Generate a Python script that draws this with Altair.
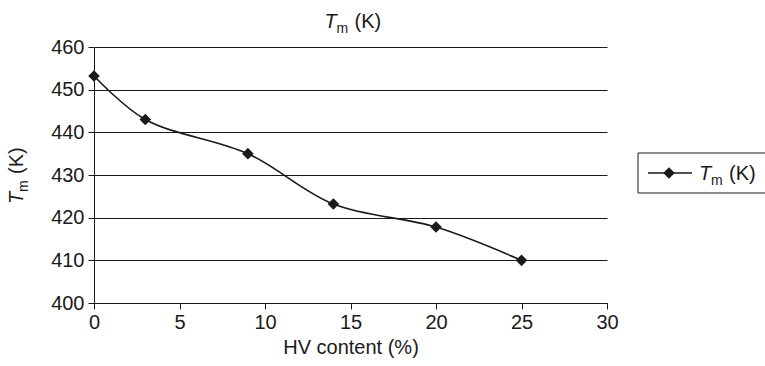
import altair as alt
import pandas as pd

# data
hv_content = [0, 3, 9, 14, 20, 25]
tm_values = [453.2, 443.0, 435.0, 423.2, 417.8, 410.0]
x_ticks = [0, 5, 10, 15, 20, 25, 30]
y_ticks = [400, 410, 420, 430, 440, 450, 460]

FONT = "Liberation Sans"
FS = 20
INK = "#1a1a1a"
W, H = 513, 256

df = pd.DataFrame({"hv": hv_content, "tm": tm_values})

x_enc = alt.X("hv:Q", scale=alt.Scale(domain=[0, 30], nice=False),
              axis=alt.Axis(values=x_ticks, title="HV content (%)", grid=False,
                            labelFontSize=FS, titleFontSize=FS, labelFont=FONT,
                            titleFont=FONT, titleFontWeight="normal",
                            labelColor=INK, titleColor=INK, domainColor=INK,
                            tickColor=INK, tickSize=6, labelPadding=3,
                            titlePadding=5, labelFlush=False))
y_enc = alt.Y("tm:Q", scale=alt.Scale(domain=[400, 460], nice=False, zero=False),
              axis=alt.Axis(values=y_ticks, title=None, grid=True,
                            gridColor=INK, gridOpacity=1, gridWidth=1,
                            labelFontSize=FS, labelFont=FONT, labelColor=INK,
                            domainColor=INK, tickColor=INK, tickSize=6,
                            labelPadding=4))

base = alt.Chart(df)
line = base.mark_line(color=INK, strokeWidth=1.6, interpolate="catmull-rom").encode(x=x_enc, y=y_enc)
points = base.mark_point(shape="diamond", filled=True, color=INK, size=135, opacity=1).encode(
    x="hv:Q", y="tm:Q")

one = pd.DataFrame({"k": [0]})
def txt(s, x, y, dx=0, dy=0, size=FS, italic=False, angle=0, align="left"):
    return alt.Chart(one).mark_text(
        text=s, font=FONT, fontSize=size, fontStyle="italic" if italic else "normal",
        color=INK, align=align, baseline="alphabetic", dx=dx, dy=dy, angle=angle
    ).encode(x=alt.value(x), y=alt.value(y))

def tm_label(x, y, angle=0):
    return [
        txt("T", x, y, dx=0, italic=True, angle=angle),
        txt("m", x, y, dx=12, dy=5, size=14, angle=angle),
        txt("(K)", x, y, dx=30, angle=angle),
    ]

title_parts = tm_label(W / 2 - 26, -19)
ytitle_parts = tm_label(-71, H / 2 + 29, angle=270)

legend_box = alt.Chart(one).mark_rect(fill="white", stroke=INK, strokeWidth=1).encode(
    x=alt.value(544), x2=alt.value(690), y=alt.value(106), y2=alt.value(146))
legend_line = alt.Chart(one).mark_rule(color=INK, strokeWidth=1.6).encode(
    x=alt.value(554), x2=alt.value(598), y=alt.value(126))
legend_pt = alt.Chart(one).mark_point(shape="diamond", filled=True, color=INK, size=135, opacity=1).encode(
    x=alt.value(575), y=alt.value(126))
legend_txt = tm_label(605, 133)

chart = alt.layer(line, points, *title_parts, *ytitle_parts,
                  legend_box, legend_line, legend_pt, *legend_txt).properties(
    width=W, height=H,
    autosize=alt.AutoSizeParams(type="none"),
    padding={"left": 94, "top": 47, "right": 158, "bottom": 63},
    background="white",
).configure_view(stroke=None)

chart.save("out.html", embed_options={"renderer": "svg", "actions": False})
